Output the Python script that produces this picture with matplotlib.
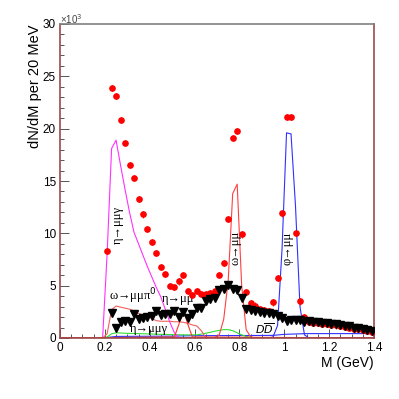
import numpy as np
from matplotlib import pyplot as plt
from matplotlib.ticker import MultipleLocator

# ---- data (units: thousands per 20 MeV) ----
data_m = [0.21, 0.23, 0.25, 0.27, 0.29, 0.31, 0.33, 0.35, 0.37, 0.39,
          0.41, 0.43, 0.45, 0.47, 0.49, 0.51, 0.53, 0.55, 0.57, 0.59,
          0.61, 0.63, 0.65, 0.67, 0.69, 0.71, 0.73, 0.75, 0.77, 0.79,
          0.81, 0.83, 0.85, 0.87, 0.89, 0.91, 0.93, 0.95, 0.97, 0.99,
          1.01, 1.03, 1.05, 1.07, 1.09, 1.11, 1.13, 1.15, 1.17, 1.19,
          1.21, 1.23, 1.25, 1.27, 1.29, 1.31, 1.33, 1.35, 1.37, 1.39]
data_y = [8.3, 23.9, 23.1, 20.8, 18.6, 16.5, 15.3, 13.3, 11.8, 10.4,
          9.2, 8.1, 6.8, 6.1, 5.0, 4.9, 5.4, 6.0, 4.5, 4.1,
          4.5, 4.2, 4.2, 4.3, 4.5, 6.0, 7.2, 11.4, 19.1, 19.8,
          9.9, 4.4, 3.3, 3.1, 2.8, 2.7, 2.6, 3.4, 5.7, 11.9,
          21.1, 21.1, 10.0, 3.5, 2.0, 1.5, 1.45, 1.4, 1.35, 1.35,
          1.25, 1.2, 1.15, 1.05, 1.0, 0.9, 0.85, 0.75, 0.7, 0.6]

bkg_m = data_m[1:]
bkg_y = [2.4, 1.0, 1.5, 1.6, 1.5, 2.3, 1.8, 1.9, 2.0,
         2.1, 2.6, 2.2, 2.3, 2.3, 2.6, 2.0, 2.5, 1.9, 2.3,
         2.9, 2.9, 3.5, 3.7, 3.8, 4.6, 4.65, 5.1, 4.7, 4.6,
         3.8, 2.8, 2.7, 2.6, 2.5, 2.4, 2.35, 2.3, 2.1, 1.9,
         1.65, 1.75, 1.7, 1.75, 1.55, 1.6, 1.55, 1.5, 1.45, 1.45,
         1.35, 1.3, 1.25, 1.15, 1.1, 1.0, 0.95, 0.85, 0.8, 0.7]

eta_dal_m = [0.0, 0.19, 0.21, 0.23, 0.25, 0.27, 0.29, 0.31, 0.33, 0.35, 0.37,
             0.39, 0.41, 0.43, 0.45, 0.47, 0.49, 0.51, 0.53, 0.55, 1.4]
eta_dal_y = [0, 0, 8.0, 18.1, 18.9, 16.5, 14.2, 12.0, 10.1, 9.0, 7.9,
             6.8, 5.8, 4.8, 3.9, 2.7, 1.5, 0.5, 0.05, 0, 0]

omega_dal_m = [0.0, 0.19, 0.21, 0.23, 0.25, 0.27, 0.29, 0.31, 0.33, 0.35, 0.37,
               0.39, 0.41, 0.43, 0.45, 0.47, 0.49, 0.51, 0.53, 0.55, 0.57,
               0.59, 0.61, 0.63, 0.65, 0.67, 1.4]
omega_dal_y = [0, 0, 0.4, 2.7, 3.05, 2.95, 2.85, 2.75, 2.6, 2.35, 2.2,
               2.1, 1.85, 1.65, 1.6, 1.6, 1.6, 1.55, 1.55, 1.5, 1.4,
               1.25, 1.15, 0.7, 0.05, 0, 0]

eta_mumu_m = [0.0, 0.51, 0.53, 0.55, 0.57, 0.59, 1.4]
eta_mumu_y = [0, 0.1, 1.3, 2.7, 1.3, 0.1, 0]

omega_mumu_m = [0.0, 0.69, 0.71, 0.73, 0.75, 0.77, 0.79, 0.81, 0.83, 0.85, 0.87, 1.4]
omega_mumu_y = [0, 0.05, 0.3, 1.8, 5.5, 13.8, 14.7, 5.0, 0.8, 0.1, 0, 0]

phi_mumu_m = [0.0, 0.93, 0.95, 0.97, 0.99, 1.01, 1.03, 1.05, 1.07, 1.09, 1.11, 1.4]
phi_mumu_y = [0, 0, 0.1, 1.2, 8.5, 19.6, 19.5, 12.6, 3.0, 0.3, 0, 0]

rho_m = [0.0, 0.19, 0.21, 0.23, 0.25, 0.29, 0.35, 0.45, 0.55, 0.61, 0.65,
         0.69, 0.73, 0.75, 0.77, 0.79, 0.81, 0.83, 0.85, 0.87, 1.4]
rho_y = [0, 0, 0.1, 0.4, 0.5, 0.45, 0.42, 0.35, 0.3, 0.3, 0.45,
         0.65, 0.8, 0.8, 0.7, 0.5, 0.3, 0.15, 0.05, 0, 0]

dd_m = [0.0, 0.19, 0.21, 0.25, 0.5, 0.6, 0.95, 1.0, 1.1, 1.4]
dd_y = [0, 0, 0.05, 0.15, 0.18, 0.22, 0.25, 0.35, 0.42, 0.42]

x_ticks = [0, 0.2, 0.4, 0.6, 0.8, 1.0, 1.2, 1.4]
x_tick_labels = ["0", "0.2", "0.4", "0.6", "0.8", "1", "1.2", "1.4"]

frame_col = "#9a4a4a"
serif = ["Liberation Serif", "DejaVu Serif"]


def main():
    plt.rcParams["font.family"] = ["Liberation Sans", "DejaVu Sans"]
    fig = plt.figure(figsize=(3.99, 3.99), dpi=100)
    ax = fig.add_axes([60 / 399, 61 / 399, 314 / 399, 314 / 399])

    lw = 0.8
    ax.plot(dd_m, dd_y, color="#3030ff", lw=lw, zorder=2)
    ax.plot(rho_m, rho_y, color="#30e030", lw=lw, zorder=2)
    ax.plot(phi_mumu_m, phi_mumu_y, color="#3030ff", lw=lw, zorder=2)
    ax.plot(eta_dal_m, eta_dal_y, color="#ff30ff", lw=lw, zorder=2)
    ax.plot(omega_dal_m, omega_dal_y, color="#f06060", lw=lw, zorder=2)
    ax.plot(omega_mumu_m, omega_mumu_y, color="#ff4040", lw=lw, zorder=2)
    ax.plot(eta_mumu_m, eta_mumu_y, color="#ff3030", lw=lw, zorder=2)

    ax.errorbar(data_m, data_y, yerr=0.3, fmt="o", color="red", ms=3.8,
                elinewidth=0.6, capsize=0, zorder=4)
    ax.plot(bkg_m, bkg_y, "v", color="black", ms=5.2, zorder=5)

    # labels of the components
    fs = 9
    ax.text(0.258, 10.8, "η→μμγ", rotation=90, ha="center", va="center",
            fontsize=fs, family=serif, zorder=3)
    ax.text(0.782, 8.6, "ω→μμ", rotation=90, ha="center", va="center",
            fontsize=fs, family=serif, zorder=3)
    ax.text(1.016, 8.6, "φ→μμ", rotation=90, ha="center", va="center",
            fontsize=fs, family=serif, zorder=3)
    ax.text(0.218, 3.95, "ω→μμπ$^0$", ha="left", va="center",
            fontsize=fs, family=serif, zorder=3)
    ax.text(0.455, 3.75, "η→μμ", ha="left", va="center",
            fontsize=fs, family=serif, zorder=3)
    ax.text(0.31, 0.85, "η→μμγ", ha="left", va="center",
            fontsize=fs, family=serif, zorder=3)
    ax.text(0.868, 0.85, r"$D\overline{D}$", ha="left", va="center",
            fontsize=8, zorder=3)

    ax.set_xticks(x_ticks)
    ax.set_xticklabels(x_tick_labels)
    ax.xaxis.set_minor_locator(MultipleLocator(0.05))
    ax.yaxis.set_major_locator(MultipleLocator(5))
    ax.yaxis.set_minor_locator(MultipleLocator(1))
    ax.set_xlim(0, 1.4)
    ax.set_ylim(0, 30)
    ax.tick_params(which="both", direction="in", color="#555555",
                   labelsize=8.5, top=False, right=False)
    ax.tick_params(which="major", length=6.5, width=0.7, pad=3)
    ax.tick_params(which="minor", length=3.2, width=0.7)

    for side in ["left", "right", "bottom"]:
        ax.spines[side].set_color(frame_col)
        ax.spines[side].set_linewidth(1.2)
    ax.spines["top"].set_color("#808080")
    ax.spines["top"].set_linewidth(1.2)

    fig.text(35 / 399, 1 - 24 / 399, "dN/dM per 20 MeV", rotation=90,
             ha="center", va="top", fontsize=10.5)
    fig.text(374 / 399, 1 - 363 / 399, "M (GeV)", ha="right", va="center",
             fontsize=10)
    fig.text(60 / 399, 1 - 19 / 399, r"×10$^3$", ha="left", va="center",
             fontsize=7, color="#444444")

    fig.savefig("out.png", dpi=100)


if __name__ == "__main__":
    main()
